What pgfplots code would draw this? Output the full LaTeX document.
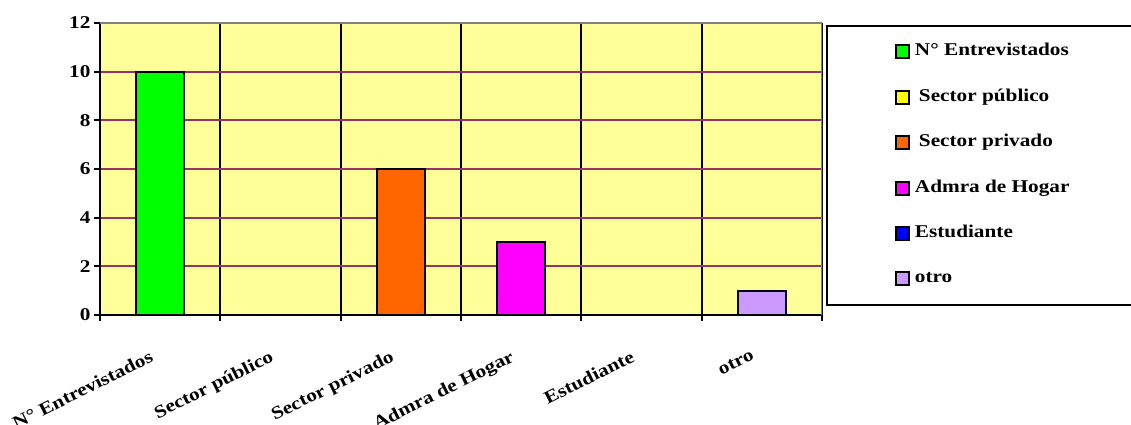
\documentclass[border=0pt]{standalone}
\usepackage{fontspec}
\setmainfont{Liberation Serif}[FakeStretch=1.18]
\usepackage{pgfplots}
\pgfplotsset{compat=1.18}

\definecolor{fondo}{HTML}{FFFF99}
\definecolor{rejilla}{HTML}{993366}
\definecolor{verde}{HTML}{00FF00}
\definecolor{amarillo}{HTML}{FFFF00}
\definecolor{naranja}{HTML}{FF6600}
\definecolor{magenta2}{HTML}{FF00FF}
\definecolor{azul}{HTML}{0000FF}
\definecolor{lila}{HTML}{CC99FF}

\pgfplotsset{cuadro/.style={legend image code/.code={\draw[##1,line width=2pt] (0pt,-6.5pt) rectangle (13pt,6.5pt);}}}

\begin{document}
\begin{tikzpicture}
\begin{axis}[
    scale only axis,
    width=722pt, height=292pt,
    ybar, bar width=0.4, bar shift=0pt,
    xmin=-0.5, xmax=5.5, ymin=0, ymax=12,
    ytick={0,2,...,12},
    xtick={-0.5,0.5,...,5.5},
    xticklabels={},
    xmajorgrids, x grid style={black, line width=2pt},
    ymajorgrids, y grid style={rejilla, line width=2pt},
    extra x ticks={0,1,2,3,4,5},
    extra x tick labels={N° Entrevistados, Sector público, Sector privado, Admra de Hogar, Estudiante, otro},
    extra x tick style={major tick length=0pt, grid=none},
    tick align=outside, major tick length=6pt,
    tick style={black, line width=2pt},
    axis x line*=bottom, axis y line*=left,
    axis line style={black, line width=2.4pt, -},
    axis background/.style={fill=fondo},
    /pgf/number format/assume math mode=true,
    tick label style={font=\bfseries\fontsize{18}{20}\selectfont},
    xticklabel style={xshift=-10pt, yshift=-30pt, rotate=26.5, anchor=north east},
    legend style={at={(1.0055,0.9932)}, anchor=north west, draw=black, line width=2pt,
        fill=white, inner xsep=68pt, inner ysep=16pt, row sep=25.4pt,
        font=\bfseries\fontsize{18}{20}\selectfont,
        nodes={text height=12pt, text depth=4pt, inner xsep=5pt}},
    legend cell align=left,
]
\addplot[fill=verde, draw=black, line width=2pt, cuadro] coordinates {(0,10)};
\addlegendentry{N° Entrevistados}
\addplot[fill=amarillo, draw=black, line width=2pt, cuadro] coordinates {(1,0)};
\addlegendentry{\hspace{4pt}Sector público}
\addplot[fill=naranja, draw=black, line width=2pt, cuadro] coordinates {(2,6)};
\addlegendentry{\hspace{4pt}Sector privado}
\addplot[fill=magenta2, draw=black, line width=2pt, cuadro] coordinates {(3,3)};
\addlegendentry{Admra de Hogar}
\addplot[fill=azul, draw=black, line width=2pt, cuadro] coordinates {(4,0)};
\addlegendentry{Estudiante}
\addplot[fill=lila, draw=black, line width=2pt, cuadro] coordinates {(5,1)};
\addlegendentry{otro}
\draw[gray, line width=2.4pt] (rel axis cs:0,1) -- (rel axis cs:1,1) -- (rel axis cs:1,0);
\end{axis}
\pgfresetboundingbox
\path[use as bounding box] (-100pt,-110pt) rectangle (1031pt,315pt);
\end{tikzpicture}
\end{document}
